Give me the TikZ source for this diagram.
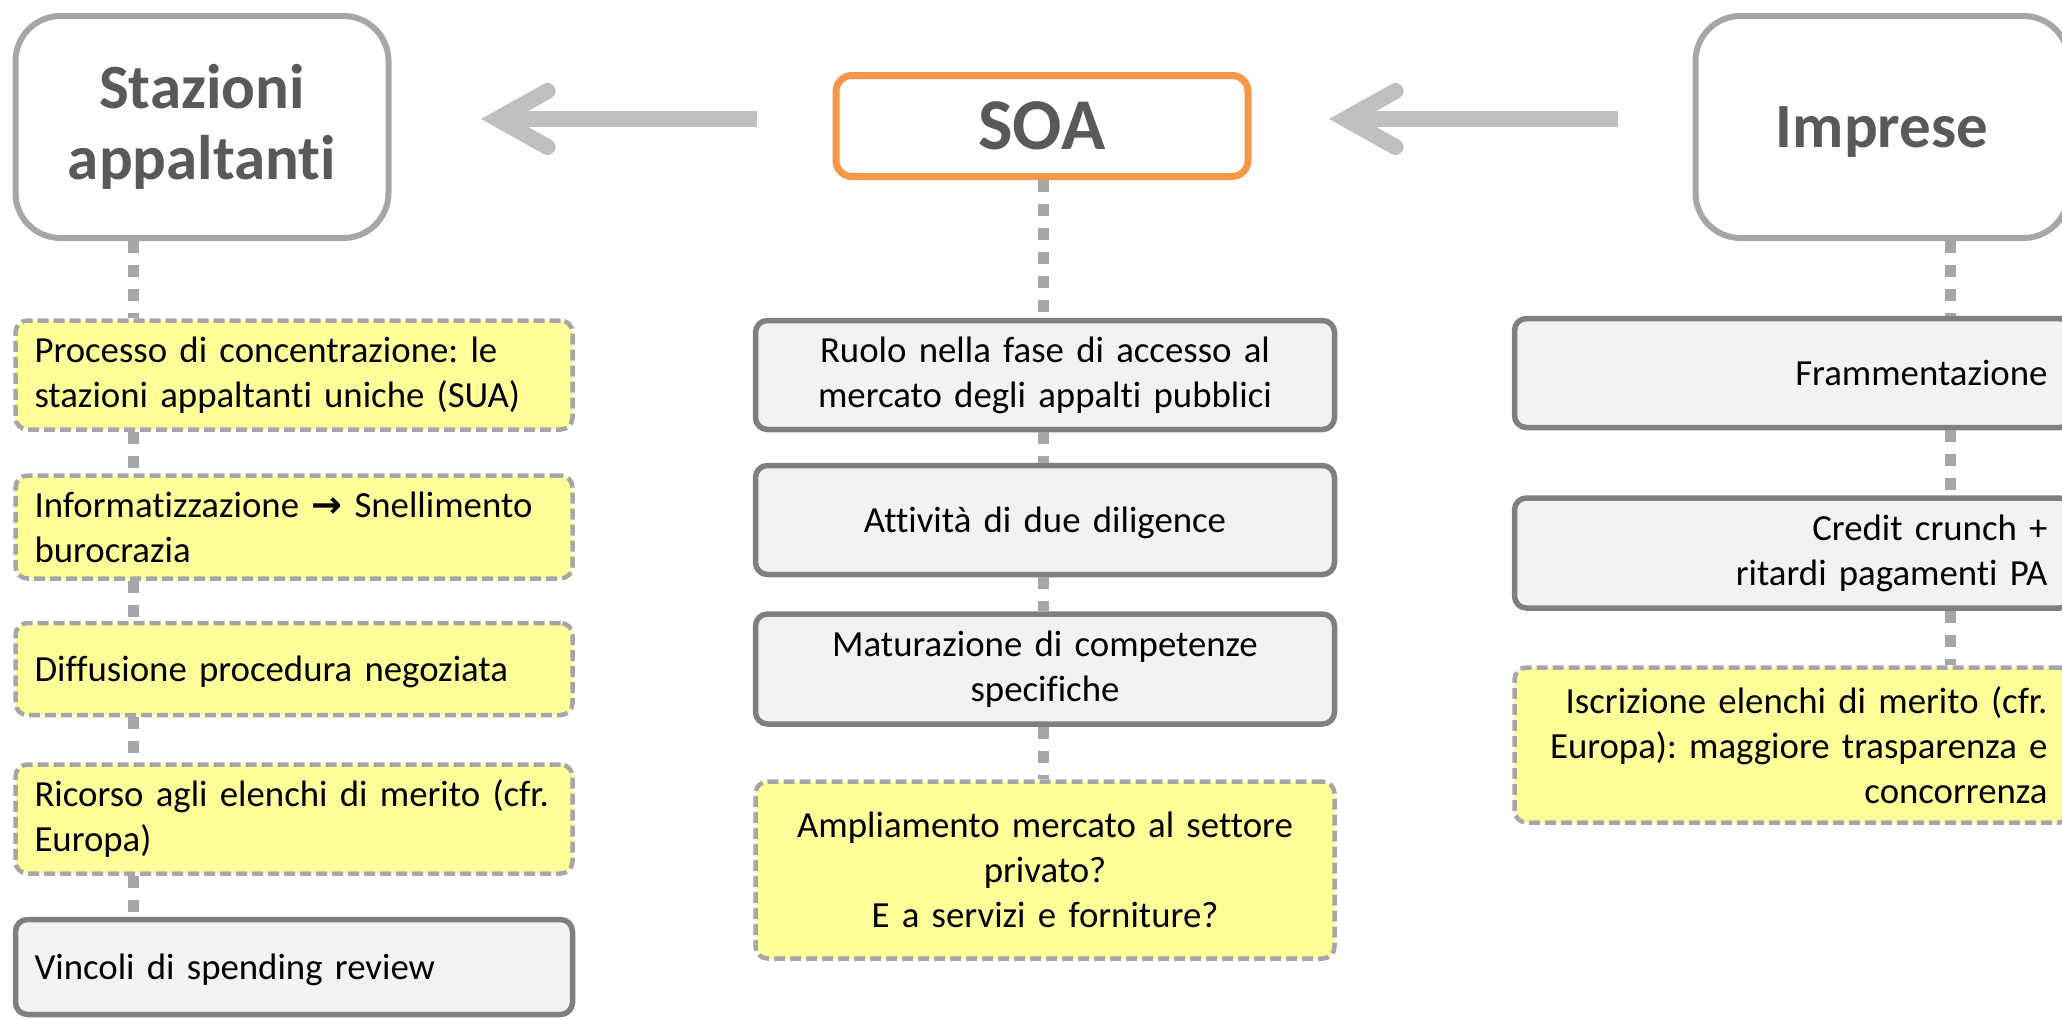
\documentclass[tikz,border=0pt]{standalone}
\usepackage{fontspec}
\setmainfont{Carlito}[Ligatures={NoCommon}]
\newfontfamily\symfont{DejaVu Sans}
\usepackage{tikz}
\usetikzlibrary{calc}
\frenchspacing
\definecolor{hdrgray}{HTML}{A6A6A6}
\definecolor{hdrtext}{HTML}{595959}
\definecolor{boxgray}{HTML}{7F7F7F}
\definecolor{boxfill}{HTML}{F2F2F2}
\definecolor{notefill}{HTML}{FFFF99}
\definecolor{soaorange}{HTML}{F79646}
\definecolor{arrowgray}{HTML}{BFBFBF}
\tikzset{
  header/.style={draw=hdrgray, line width=6pt, rounded corners=45pt, fill=white,
    text=hdrtext, align=center, font=\fontsize{63}{71}\selectfont\bfseries,
    minimum width=373pt, minimum height=222pt},
  soabox/.style={header, draw=soaorange, line width=7pt, rounded corners=16pt,
    minimum width=412pt, minimum height=101pt, font=\fontsize{73}{80}\selectfont\bfseries},
  fact/.style={draw=boxgray, line width=5.5pt, rounded corners=12pt, fill=boxfill,
    font=\fontsize{36.8}{45}\selectfont},
  note/.style={fact, draw=hdrgray, line width=4.5pt, fill=notefill, dash pattern=on 11pt off 5pt},
  oneline/.style={text depth=0pt},
  lcol/.style={inner xsep=19pt, text width=519pt, align=left},
  mcol/.style={inner xsep=24pt, text width=531pt, align=center},
  rcol/.style={inner xsep=24pt, text width=509pt, align=right},
  link/.style={draw=hdrgray, line width=11pt, dash pattern=on 12pt off 12pt},
  bigarrow/.style={draw=arrowgray, line width=16pt},
  chevron/.style={bigarrow, line cap=round, line join=miter}
}

\begin{document}
\begin{tikzpicture}[x=1pt,y=-1pt]
  \useasboundingbox (0,0) rectangle (2062,1020);

  \def\arrowhead#1{\draw[chevron] ($(#1)+(50,-28)$) -- (#1) -- ($(#1)+(50,28)$);}

  % COORDINATES
  \coordinate (lx) at (133,0);
  \coordinate (mx) at (1043,0);
  \coordinate (rx) at (1950,0);
  \coordinate (ay) at (0,119);

  % STAZIONI APPALTANTI
  \node[header] (staz) at (202,127) {Stazioni\\appaltanti};
  \node[note,lcol,minimum height=109pt] (s1) at (294,375) {Processo di concentrazione: le\\stazioni appaltanti uniche (SUA)};
  \node[note,lcol,minimum height=103pt] (s2) at (294,527) {Informatizzazione {\symfont\bfseries →} Snellimento\\burocrazia};
  \node[note,lcol,oneline,minimum height=92pt] (s3) at (294,669) {Diffusione procedura negoziata};
  \node[note,lcol,minimum height=109pt] (s4) at (294,819) {Ricorso agli elenchi di merito (cfr.\\Europa)};
  \node[fact,lcol,oneline,minimum height=95pt] (s5) at (294,967) {Vincoli di spending review};

  % SOA
  \node[soabox] (soa) at (1042,126) {SOA};
  \node[fact,mcol,minimum height=109pt] (o1) at (1045,375) {Ruolo nella fase di accesso al\\mercato degli appalti pubblici};
  \node[fact,mcol,oneline,minimum height=109pt] (o2) at (1045,520) {Attività di due diligence};
  \node[fact,mcol,minimum height=110pt] (o3) at (1045,669) {Maturazione di competenze\\specifiche};
  \node[note,mcol,minimum height=177pt] (o4) at (1045,870) {Ampliamento mercato al settore\\privato?\\E a servizi e forniture?};

  % IMPRESE
  \node[header,oneline] (imp) at (1882,127) {Imprese};
  \node[fact,rcol,oneline,minimum height=109pt] (i1) at (1793,373) {Frammentazione};
  \node[fact,rcol,minimum height=110pt] (i2) at (1793,553) {Credit crunch +\\ritardi pagamenti PA};
  \node[note,rcol,minimum height=155pt] (i3) at (1793,745) {Iscrizione elenchi di merito (cfr.\\Europa): maggiore trasparenza e\\concorrenza};

  % LINKS
  \foreach \a/\b in {staz/s1,s1/s2,s2/s3,s3/s4,s4/s5}
    \draw[link] (\a.south -| lx) -- (\b.north -| lx);
  \foreach \a/\b in {soa/o1,o1/o2,o2/o3,o3/o4}
    \draw[link] (\a.south -| mx) -- (\b.north -| mx);
  \foreach \a/\b in {imp/i1,i1/i2,i2/i3}
    \draw[link] (\a.south -| rx) -- (\b.north -| rx);

  % ARROWS
  \draw[bigarrow] ($(soa.west |- ay)+(-76,0)$) -- ($(staz.east |- ay)+(106,0)$) coordinate (t1);
  \arrowhead{t1}
  \draw[bigarrow] ($(imp.west |- ay)+(-75,0)$) -- ($(soa.east |- ay)+(94,0)$) coordinate (t2);
  \arrowhead{t2}
\end{tikzpicture}
\end{document}
